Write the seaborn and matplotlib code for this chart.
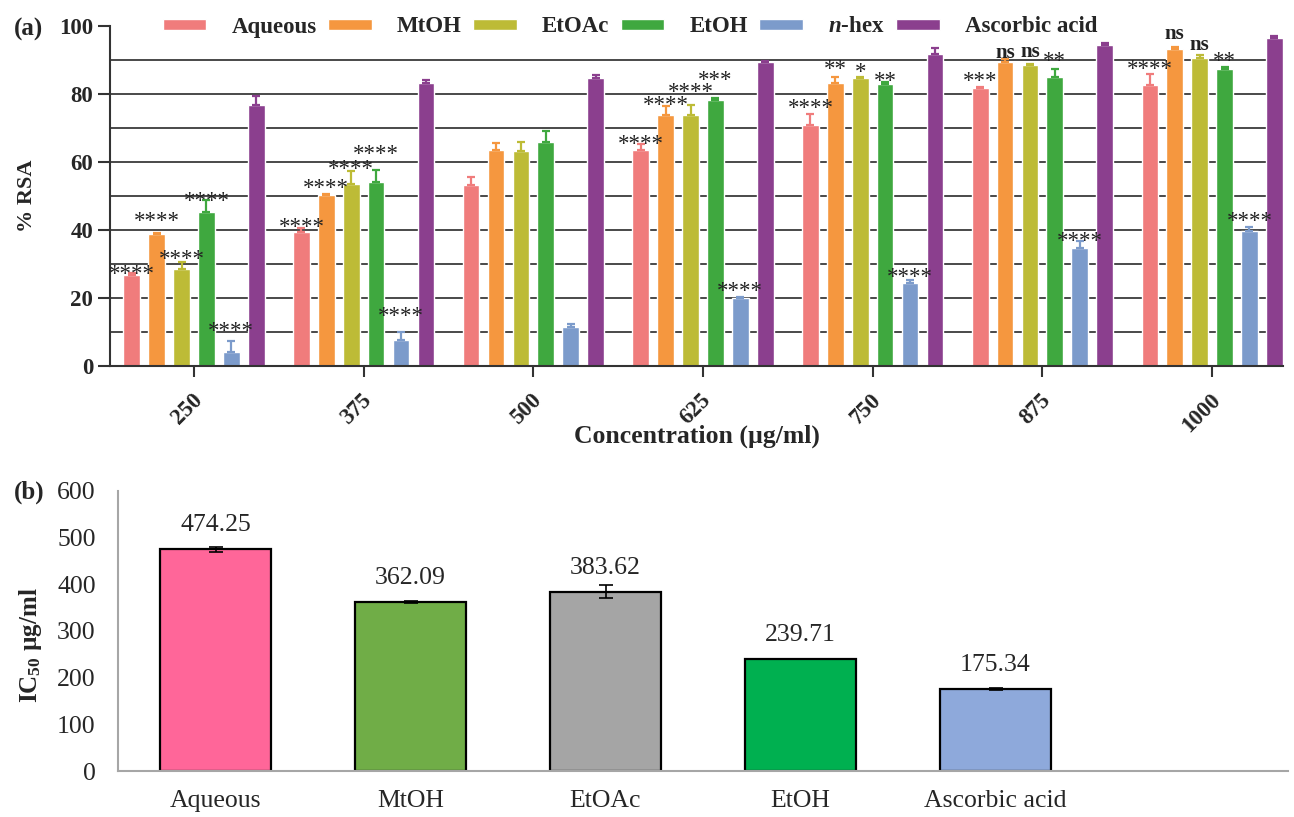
import numpy as np
import pandas as pd
import matplotlib
matplotlib.use("Agg")
import matplotlib.pyplot as plt
import matplotlib.transforms as mtransforms
import seaborn as sns

# ---------------- data: panel (a) ----------------
concentrations = ["250", "375", "500", "625", "750", "875", "1000"]
series_names = ["Aqueous", "MtOH", "EtOAc", "EtOH", "$n$-hex", "Ascorbic acid"]

aqueous = [26.8, 39.5, 53.2, 63.5, 70.9, 81.9, 82.6]
aqueous_err = [0.5, 1.0, 2.5, 1.7, 3.1, 0.3, 3.3]
mtoh = [38.7, 50.2, 63.5, 73.8, 83.1, 89.3, 93.2]
mtoh_err = [0.4, 0.3, 2.0, 2.7, 2.0, 0.9, 0.7]
etoac = [28.4, 53.5, 63.3, 73.8, 84.6, 88.5, 90.7]
etoac_err = [2.3, 3.9, 2.7, 3.0, 0.5, 0.3, 0.8]
etoh = [45.4, 54.2, 66.0, 78.2, 82.8, 84.9, 87.3]
etoh_err = [3.4, 3.4, 3.2, 0.5, 0.6, 2.4, 0.6]
nhex = [4.2, 7.6, 11.4, 20.1, 24.5, 34.8, 39.8]
nhex_err = [3.1, 2.5, 1.1, 0.3, 0.8, 2.0, 1.2]
ascorbic = [76.8, 83.1, 84.6, 89.3, 91.8, 94.4, 96.6]
ascorbic_err = [2.6, 1.0, 1.0, 0.5, 1.8, 0.5, 0.6]

# significance marks (vs. ascorbic acid) and their lift above the error bar (% RSA units)
aqueous_sig = ["****", "****", "", "****", "****", "***", "****"]
mtoh_sig = ["****", "****", "", "****", "**", "ns", "ns"]
etoac_sig = ["****", "****", "", "****", "*", "ns", "ns"]
etoh_sig = ["****", "****", "", "***", "**", "**", "**"]
nhex_sig = ["****", "****", "", "****", "****", "****", "****"]
ascorbic_sig = ["", "", "", "", "", "", ""]

aqueous_lift = [0.0, 0.5, 0, 0.3, 2.0, 1.9, 1.7]
mtoh_lift = [3.8, 2.0, 0, 0.5, 2.5, 0.4, 2.2]
etoac_lift = [1.0, 0.7, 0, 4.0, 1.5, 2.2, 1.5]
etoh_lift = [0.0, 5.0, 0, 5.5, 0.7, 2.6, 2.1]
nhex_lift = [3.1, 4.9, 0, 1.8, 1.2, 0.1, 1.9]
ascorbic_lift = [0, 0, 0, 0, 0, 0, 0]

# ---------------- data: panel (b) ----------------
ic50_labels = ["Aqueous", "MtOH", "EtOAc", "EtOH", "Ascorbic acid"]
ic50_values = [474.25, 362.09, 383.62, 239.71, 175.34]
ic50_err = [5.5, 1.5, 14.0, 0.5, 3.0]

# ---------------- styles ----------------
top_colors = ["#F07C7C", "#F5973F", "#BDBB36", "#3FA83F", "#7C9BCB", "#8B3F8E"]
ic50_colors = ["#FF6699", "#70AD47", "#A5A5A5", "#00B050", "#8EA9DB"]

sns.set_theme(style="white")
plt.rcParams["font.family"] = ["Liberation Serif", "DejaVu Serif"]
plt.rcParams["mathtext.fontset"] = "custom"
plt.rcParams["mathtext.it"] = "Liberation Serif:italic:bold"
plt.rcParams["mathtext.rm"] = "Liberation Serif:bold"
plt.rcParams["mathtext.bf"] = "Liberation Serif:bold"

W, H = 1294, 817
fig = plt.figure(figsize=(W / 100, H / 100), dpi=100)
fig.patch.set_facecolor("white")

ax1 = fig.add_axes([110 / W, 1 - 366 / H, (1283 - 110) / W, (366 - 26) / H])
ax2 = fig.add_axes([118 / W, 1 - 771 / H, (1288 - 118) / W, (771 - 490.7) / H])

# ---------------- panel (a) ----------------
values = [aqueous, mtoh, etoac, etoh, nhex, ascorbic]
errors = [aqueous_err, mtoh_err, etoac_err, etoh_err, nhex_err, ascorbic_err]
sigs = [aqueous_sig, mtoh_sig, etoac_sig, etoh_sig, nhex_sig, ascorbic_sig]
lifts = [aqueous_lift, mtoh_lift, etoac_lift, etoh_lift, nhex_lift, ascorbic_lift]

rows = []
for name, vals in zip(series_names, values):
    for c, v in zip(concentrations, vals):
        rows.append({"conc": c, "series": name, "value": v})
df = pd.DataFrame(rows)

sns.barplot(data=df, x="conc", y="value", hue="series", hue_order=series_names,
            order=concentrations, palette=top_colors, width=0.88, gap=0.33,
            saturation=1, errorbar=None, ax=ax1, zorder=2)

STAR_FS = 16.5
star_drop = 0.29 * STAR_FS * 100 / 72 / (340 / 100)   # asterisk sits above baseline
for cont, err, sig, lift, col in zip(ax1.containers, errors, sigs, lifts, top_colors):
    xs = [b.get_x() + b.get_width() / 2 for b in cont]
    hs = [b.get_height() for b in cont]
    ax1.errorbar(xs, hs, yerr=[np.zeros(len(err)), err], fmt="none", ecolor=col,
                 elinewidth=1.6, capsize=3, capthick=1.6, zorder=3)
    for x, h, e, s, lf in zip(xs, hs, err, sig, lift):
        if not s:
            continue
        if s == "ns":
            ax1.text(x, h + e + lf, s, ha="center", va="baseline", fontsize=15,
                     fontweight="bold", color="#222222", zorder=4)
        else:
            ax1.text(x, h + e + lf - star_drop, s, ha="center", va="baseline",
                     fontsize=STAR_FS, color="#222222", zorder=4)

grid_levels = [10, 20, 30, 40, 50, 60, 70, 80, 90]
for lvl in grid_levels:
    ax1.axhline(lvl, color="#3a3a3a", lw=1.3, zorder=0)

ax1.set_xlim(-0.495, 6.418)
ax1.set_ylim(0, 100)
ax1.set_yticks([0, 20, 40, 60, 80, 100])
ax1.tick_params(axis="y", length=9, width=1.5, color="#333333", labelsize=16.5, pad=3, left=True)
ax1.tick_params(axis="x", length=8, width=1.5, color="#333333", labelsize=16.5, pad=2, bottom=True)
for lbl in ax1.get_yticklabels():
    lbl.set_fontweight("bold")
offset = mtransforms.ScaledTranslation(3.5 / 72, -12 / 72, fig.dpi_scale_trans)
for lbl in ax1.get_xticklabels():
    lbl.set_fontweight("bold")
    lbl.set_rotation(45)
    lbl.set_ha("right")
    lbl.set_va("center")
    lbl.set_rotation_mode("anchor")
    lbl.set_transform(lbl.get_transform() + offset)

sns.despine(ax=ax1)
for sp in ["left", "bottom"]:
    ax1.spines[sp].set_color("#333333")
    ax1.spines[sp].set_linewidth(1.5)

ax1.set_xlabel("Concentration (µg/ml)", fontsize=18.5, fontweight="bold")
ax1.xaxis.set_label_coords(0.5, -0.172)
ax1.set_ylabel("% RSA", fontsize=16, fontweight="bold")
ax1.yaxis.set_label_coords(-0.062, 0.5)

handles, labels = ax1.get_legend_handles_labels()
ax1.legend(handles, labels, loc="center", bbox_to_anchor=(630 / W, 1 - 27 / H),
           bbox_transform=fig.transFigure, ncol=6, frameon=False,
           handlelength=1.9, handleheight=0.4, handletextpad=1.1, columnspacing=0.5,
           prop={"family": "Liberation Serif", "weight": "bold", "size": 16.5})

fig.text(14 / W, 1 - 29 / H, "(a)", fontsize=18, fontweight="bold", ha="left", va="center")

# ---------------- panel (b) ----------------
dfb = pd.DataFrame({"extract": ic50_labels, "ic50": ic50_values})
sns.barplot(data=dfb, x="extract", y="ic50", hue="extract", hue_order=ic50_labels,
            order=ic50_labels, palette=ic50_colors, width=0.57, saturation=1,
            edgecolor="black", linewidth=1.6, errorbar=None, legend=False, ax=ax2)

for cont, v, e in zip(ax2.containers, ic50_values, ic50_err):
    b = cont[0]
    x = b.get_x() + b.get_width() / 2
    ax2.errorbar([x], [b.get_height()], yerr=[e], fmt="none", ecolor="black",
                 elinewidth=1.2, capsize=5, capthick=1.2, zorder=3)
    ax2.annotate(f"{v:.2f}", (x, b.get_height()), xytext=(0, 13),
                 textcoords="offset points", ha="center", va="baseline", fontsize=18.5)

ax2.set_xlim(-0.5, 5.5)
ax2.set_ylim(0, 600)
ax2.set_yticks(range(0, 601, 100))
ax2.tick_params(axis="y", length=0, labelsize=18.5, pad=16)
ax2.tick_params(axis="x", length=0, labelsize=18.5, pad=14)
ax2.set_xlabel("")
ax2.set_ylabel("IC$_{\\mathrm{50}}$ µg/ml", fontsize=18, fontweight="bold")
ax2.yaxis.set_label_coords(-0.063, 0.45)
sns.despine(ax=ax2)
for sp in ["left", "bottom"]:
    ax2.spines[sp].set_color("#A6A6A6")
    ax2.spines[sp].set_linewidth(1.5)

fig.text(14 / W, 1 - 492 / H, "(b)", fontsize=18, fontweight="bold", ha="left", va="center")

fig.savefig("out.png", dpi=100)
